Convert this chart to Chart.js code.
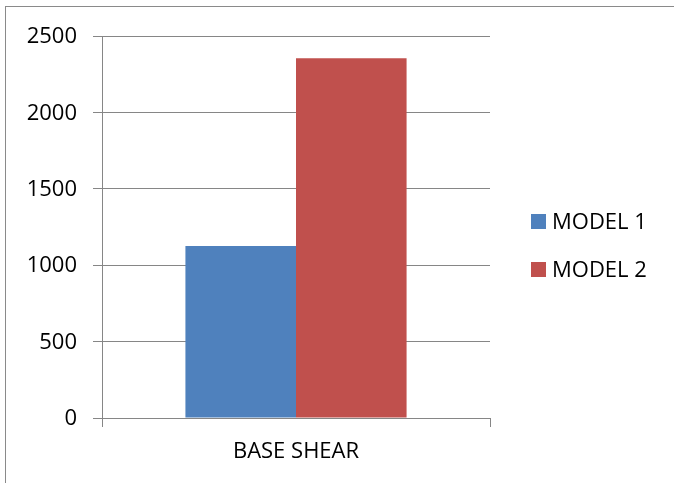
<!DOCTYPE html>
<html>
<head>
<meta charset="utf-8">
<script src="https://cdn.jsdelivr.net/npm/chart.js@4"></script>
<style>
  html, body { margin: 0; padding: 0; background: #fff; overflow: hidden; width: 674px; height: 483px; }
  #wrap { position: relative; width: 674px; height: 483px; overflow: hidden; }
  #frame { position: absolute; left: 5px; top: 6px; width: 900px; height: 900px;
           border-left: 1px solid #8a8a8a; border-top: 1px solid #8a8a8a; }
  canvas { position: absolute; left: 0; top: 0; }
</style>
</head>
<body>
<div id="wrap">
  <div id="frame"></div>
  <canvas id="c" width="674" height="483"></canvas>
</div>
<script>
const categories = ['BASE SHEAR'];
const seriesNames = ['MODEL 1', 'MODEL 2'];
const model1 = [1125];
const model2 = [2355];
const yTicks = [0, 500, 1000, 1500, 2000, 2500];
const colors = ['#4F81BD', '#C0504D'];

const FONT = "'Open Sans', 'Liberation Sans', sans-serif";
const GRID = '#868686';

const legendPlugin = {
  id: 'sideLegend',
  afterDraw(chart) {
    const ctx = chart.ctx;
    ctx.save();
    ctx.font = '22px ' + FONT;
    ctx.textBaseline = 'middle';
    ctx.textAlign = 'left';
    const ys = [221.5, 269.5];
    chart.data.datasets.forEach((ds, i) => {
      ctx.fillStyle = ds.backgroundColor;
      ctx.fillRect(531, ys[i] - 7.5, 15, 15);
      ctx.fillStyle = '#000';
      ctx.fillText(ds.label, 552, ys[i] + 1);
    });
    ctx.restore();
  }
};

new Chart(document.getElementById('c'), {
  type: 'bar',
  data: {
    labels: categories,
    datasets: [
      { label: seriesNames[0], data: model1, backgroundColor: colors[0] },
      { label: seriesNames[1], data: model2, backgroundColor: colors[1] }
    ]
  },
  options: {
    responsive: false,
    animation: false,
    devicePixelRatio: 1,
    layout: { padding: { left: 0, right: 184, top: 36, bottom: 0 } },
    plugins: { legend: { display: false }, tooltip: { enabled: false } },
    datasets: { bar: { categoryPercentage: 0.57, barPercentage: 1.0 } },
    scales: {
      x: {
        afterFit(scale) { scale.height = 65; },
        grid: { display: true, drawOnChartArea: false, drawTicks: true, tickLength: 9, color: GRID, offset: true },
        border: { display: true, color: GRID, width: 1 },
        ticks: { color: '#000', font: { family: FONT, size: 22 }, padding: 12 }
      },
      y: {
        min: 0, max: 2500,
        afterFit(scale) { scale.width = 102; },
        afterBuildTicks(scale) { scale.ticks = yTicks.map(v => ({ value: v })); },
        grid: { display: true, drawTicks: true, tickLength: 9, color: GRID },
        border: { display: true, color: GRID, width: 1 },
        ticks: { color: '#000', font: { family: FONT, size: 22 }, padding: 16, labelOffset: 1,
                 callback: (v) => String(v) }
      }
    }
  },
  plugins: [legendPlugin]
});
</script>
</body>
</html>
